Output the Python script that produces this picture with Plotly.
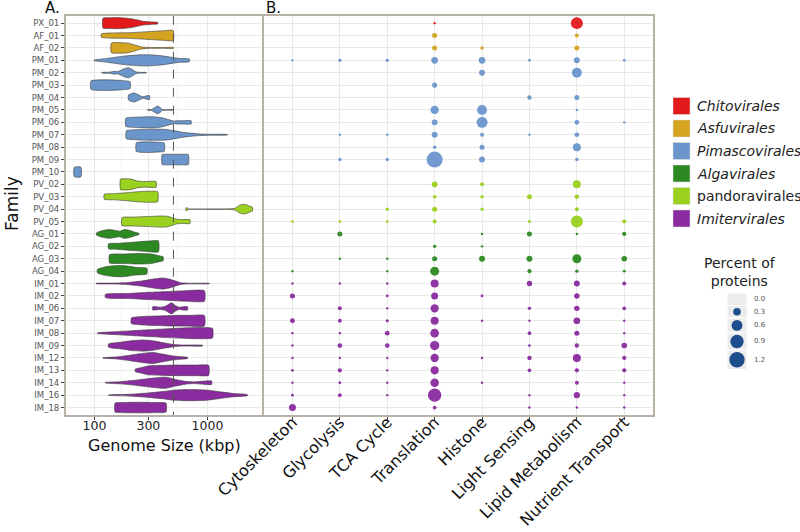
import plotly.graph_objects as go

W, H = 800, 532

families = ["PX_01", "AF_01", "AF_02", "PM_01", "PM_02", "PM_03", "PM_04", "PM_05",
            "PM_06", "PM_07", "PM_08", "PM_09", "PM_10", "PV_02", "PV_03", "PV_04",
            "PV_05", "AG_01", "AG_02", "AG_03", "AG_04", "IM_01", "IM_02", "IM_06",
            "IM_07", "IM_08", "IM_09", "IM_12", "IM_13", "IM_14", "IM_16", "IM_18"]

family_order = (["Chitovirales"] + ["Asfuvirales"] * 2 + ["Pimascovirales"] * 10 +
                ["pandoravirales"] * 4 + ["Algavirales"] * 4 + ["Imitervirales"] * 11)

orders = ["Chitovirales", "Asfuvirales", "Pimascovirales", "Algavirales",
          "pandoravirales", "Imitervirales"]
order_colors = ["#e31a1c", "#d4a421", "#6b96cc", "#2d8a22", "#9bd11f", "#8a2b9f"]
order_italic = [True, True, True, True, False, True]

# violin outlines: genome size (kbp) and relative half-width
violin_kbp = [
    [119, 136, 156, 190, 219, 268, 328, 362],
    [115, 200, 300, 400, 498],
    [141, 170, 200, 230, 260, 300, 400, 470, 500],
    [99, 130, 180, 250, 300, 380, 450, 500, 560, 691],
    [116, 135, 150, 160, 170, 185, 200, 215, 234, 260, 287],
    [93, 100, 130, 170, 200, 207],
    [200, 212, 225, 245, 265, 290, 307],
    [295, 320, 340, 362, 385, 400, 450, 492],
    [189, 200, 250, 330, 400, 460, 500, 550, 600, 717],
    [191, 210, 270, 350, 430, 520, 600, 700, 850, 1100, 1504],
    [234, 250, 300, 380, 415],
    [397, 420, 500, 600, 677],
    [66, 70, 76],
    [170, 190, 210, 240, 280, 351],
    [122, 150, 200, 260, 320, 363],
    [645, 665, 680, 1000, 1500, 1750, 1950, 2150, 2350, 2500],
    [175, 220, 300, 380, 440, 500, 540, 600, 700],
    [104, 115, 135, 155, 167, 185, 200, 225, 248],
    [133, 160, 220, 300, 368],
    [136, 180, 250, 320, 380, 405],
    [106, 120, 145, 180, 230, 291],
    [103, 150, 200, 260, 330, 400, 470, 530, 580, 700, 1038],
    [125, 200, 300, 450, 650, 940],
    [328, 380, 420, 450, 482, 520, 560, 610, 667],
    [212, 260, 350, 500, 700, 940],
    [106, 150, 220, 300, 450, 650, 900, 1110],
    [133, 170, 220, 270, 330, 420, 500, 600, 906],
    [119, 150, 200, 260, 330, 400, 480, 560, 667],
    [229, 260, 300, 400, 550, 800, 1025],
    [125, 170, 240, 330, 430, 520, 640, 750, 950, 1090],
    [133, 200, 300, 400, 500, 700, 1000, 1300, 1700, 2256],
    [152, 170, 250, 350, 430],
]
violin_width = [
    [0.9, 0.97, 1.0, 0.9, 0.75, 0.35, 0.2, 0.15],
    [0.3, 0.5, 0.7, 0.85, 0.9],
    [0.85, 0.95, 0.85, 0.5, 0.2, 0.08, 0.06, 0.12, 0.1],
    [0.05, 0.35, 0.75, 0.98, 1.0, 0.85, 0.65, 0.5, 0.35, 0.25],
    [0.05, 0.1, 0.25, 0.2, 0.4, 0.75, 0.9, 0.6, 0.15, 0.06, 0.06],
    [0.75, 0.9, 0.95, 0.85, 0.7, 0.6],
    [0.45, 0.7, 0.8, 0.5, 0.15, 0.3, 0.35],
    [0.05, 0.1, 0.4, 0.7, 0.35, 0.07, 0.05, 0.05],
    [0.7, 0.85, 0.95, 1.0, 0.8, 0.45, 0.25, 0.3, 0.3, 0.3],
    [0.7, 0.85, 0.95, 1.0, 0.95, 0.7, 0.45, 0.3, 0.15, 0.08, 0.05],
    [0.75, 0.9, 0.95, 0.85, 0.75],
    [0.9, 0.95, 0.95, 0.95, 0.9],
    [0.8, 0.95, 0.85],
    [0.95, 1.0, 0.95, 0.6, 0.5, 0.5],
    [0.45, 0.55, 0.75, 0.95, 1.0, 0.9],
    [0.25, 0.2, 0.04, 0.03, 0.04, 0.15, 0.75, 0.85, 0.55, 0.35],
    [0.7, 0.8, 0.9, 1.0, 0.95, 0.6, 0.4, 0.35, 0.35],
    [0.2, 0.55, 0.8, 0.6, 0.5, 0.8, 0.7, 0.35, 0.1],
    [0.45, 0.55, 0.75, 0.95, 1.0],
    [0.75, 0.85, 0.95, 0.85, 0.5, 0.35],
    [0.3, 0.7, 0.95, 1.0, 0.7, 0.5],
    [0.03, 0.08, 0.2, 0.45, 0.8, 1.0, 0.75, 0.4, 0.15, 0.05, 0.04],
    [0.3, 0.45, 0.65, 0.8, 0.95, 0.95],
    [0.3, 0.2, 0.35, 0.7, 1.0, 0.5, 0.2, 0.3, 0.3],
    [0.5, 0.75, 0.85, 0.95, 0.97, 0.95],
    [0.05, 0.25, 0.45, 0.6, 0.8, 0.95, 1.0, 0.85],
    [0.3, 0.6, 0.9, 1.0, 0.85, 0.45, 0.2, 0.1, 0.06],
    [0.04, 0.15, 0.45, 0.8, 1.0, 0.7, 0.4, 0.25, 0.1],
    [0.2, 0.5, 0.8, 0.9, 0.95, 0.95, 0.9],
    [0.05, 0.2, 0.5, 0.85, 1.0, 0.6, 0.25, 0.15, 0.3, 0.3],
    [0.03, 0.15, 0.4, 0.65, 0.9, 1.0, 0.9, 0.6, 0.3, 0.1],
    [0.8, 0.9, 0.95, 0.9, 0.8],
]
genome_cutoff_kbp = 500
genome_ticks = [100, 300, 1000]
genome_minor = [173, 548, 1732]

categories = ["Cytoskeleton", "Glycolysis", "TCA Cycle", "Translation", "Histone",
              "Light Sensing", "Lipid Metabolism", "Nutrient Transport"]

# percent of proteins per family (family order as above), 0 = absent
pct_cytoskeleton = [0, 0, 0, 0.02, 0, 0, 0, 0, 0, 0, 0, 0, 0, 0, 0, 0,
                    0.04, 0, 0, 0, 0.02, 0.025, 0.13, 0, 0.12, 0.02, 0.01, 0.03, 0.04, 0.02, 0.04, 0.25]
pct_glycolysis = [0, 0, 0, 0.06, 0, 0, 0, 0, 0, 0.02, 0, 0.06, 0, 0, 0, 0,
                  0.04, 0.13, 0, 0.03, 0, 0.025, 0, 0.08, 0.08, 0.03, 0.11, 0.01, 0.09, 0.04, 0.07, 0]
pct_tca = [0, 0, 0, 0.06, 0, 0, 0, 0, 0, 0.02, 0, 0.06, 0, 0, 0, 0.06,
           0.04, 0, 0, 0.03, 0.03, 0.025, 0.04, 0.03, 0.05, 0.11, 0.11, 0.015, 0.03, 0.03, 0.03, 0]
pct_translation = [0.005, 0.13, 0.13, 0.23, 0, 0.13, 0, 0.35, 0.18, 0.18, 0.06, 1.3, 0, 0.18, 0.07, 0.13,
                   0.08, 0, 0.06, 0.13, 0.41, 0.33, 0.25, 0.35, 0.33, 0.38, 0.44, 0.35, 0.33, 0.38, 0.9, 0.07]
pct_histone = [0, 0, 0.06, 0.23, 0.18, 0, 0, 0.5, 0.62, 0.08, 0.13, 0.18, 0, 0.08, 0.06, 0.06,
               0, 0.01, 0.03, 0.18, 0, 0, 0.04, 0, 0.025, 0, 0, 0.02, 0, 0.015, 0, 0]
pct_light = [0, 0, 0, 0.04, 0, 0, 0.1, 0, 0, 0.01, 0, 0, 0, 0, 0.13, 0,
             0.05, 0.13, 0, 0.18, 0.09, 0.15, 0, 0.06, 0.02, 0.07, 0.04, 0.1, 0.07, 0, 0.02, 0.02]
pct_lipid = [0.73, 0.08, 0.13, 0.18, 0.5, 0, 0.13, 0.015, 0.11, 0.11, 0.33, 0.06, 0, 0.33, 0.1, 0.08,
             0.73, 0.015, 0, 0.41, 0.06, 0.18, 0.15, 0.15, 0.23, 0.13, 0.1, 0.33, 0.09, 0.08, 0.2, 0.015]
pct_nutrient = [0, 0, 0, 0.04, 0, 0, 0, 0, 0.03, 0, 0, 0, 0, 0, 0, 0,
                0.08, 0.09, 0, 0.16, 0.04, 0.08, 0, 0.07, 0.015, 0.015, 0.16, 0.09, 0.09, 0.02, 0.01, 0.02]
pct_columns = [pct_cytoskeleton, pct_glycolysis, pct_tca, pct_translation, pct_histone,
               pct_light, pct_lipid, pct_nutrient]

size_legend_values = [0.0, 0.3, 0.6, 0.9, 1.2]

# ---------------------------------------------------------------- styling
FONT = "DejaVu Sans"
GRID = "#e8e8e8"
BORDER = "#b8b2a6"
SIZEREF = 1.0 / 98.0          # diameter ~ 14 px * sqrt(value)
HALF = 0.45


def px_x(x):
    return x / W


def px_y(y):
    return 1 - y / H


def diam(v):
    return 14.0 * v ** 0.5


color_of = dict(zip(orders, order_colors))
fig = go.Figure()

# ---------------------------------------------------------------- panel A violins
for i, fam in enumerate(families):
    ks = violin_kbp[i]
    ws = violin_width[i]
    xs = list(ks) + list(ks[::-1]) + [ks[0]]
    ys = [i - HALF * w for w in ws] + [i + HALF * w for w in ws[::-1]] + [i - HALF * ws[0]]
    fig.add_trace(go.Scatter(
        x=xs, y=ys, mode="lines", fill="toself",
        fillcolor=color_of[family_order[i]],
        line=dict(color="#3a3a3a", width=0.6, shape="spline", smoothing=0.5),
        xaxis="x", yaxis="y", showlegend=False, hoverinfo="skip"))

fig.add_trace(go.Scatter(
    x=[genome_cutoff_kbp, genome_cutoff_kbp], y=[-0.6, len(families) - 0.4],
    mode="lines", line=dict(color="#555555", width=1, dash="dash"),
    xaxis="x", yaxis="y", showlegend=False, hoverinfo="skip"))

# ---------------------------------------------------------------- panel B bubbles
for o, col in zip(orders, order_colors):
    bx, by, bs = [], [], []
    for j, column in enumerate(pct_columns):
        for i, fam in enumerate(families):
            if family_order[i] == o and column[i] > 0:
                bx.append(j)
                by.append(i)
                bs.append(column[i])
    fig.add_trace(go.Scatter(
        x=bx, y=by, mode="markers",
        marker=dict(size=bs, sizemode="area", sizeref=SIZEREF, sizemin=1.2,
                    color=col, opacity=0.95, line=dict(width=0)),
        xaxis="x2", yaxis="y2", showlegend=False, hoverinfo="skip"))

# ---------------------------------------------------------------- legends
shapes = []
annotations = []


def label(x, y, text, size, color="#111111", xanchor="center", angle=0):
    annotations.append(dict(x=px_x(x), y=px_y(y), xref="paper", yref="paper", text=text,
                            showarrow=False, xanchor=xanchor, yanchor="middle",
                            textangle=angle, align="center",
                            font=dict(family=FONT, size=size, color=color)))


leg_x0, leg_x1 = 673, 690
leg_y0, leg_dy = 106, 22.5
for k, (o, col, it) in enumerate(zip(orders, order_colors, order_italic)):
    cy = leg_y0 + k * leg_dy
    shapes.append(dict(type="rect", xref="paper", yref="paper", layer="below",
                       x0=px_x(leg_x0), x1=px_x(leg_x1), y0=px_y(cy + 8.5), y1=px_y(cy - 8.5),
                       fillcolor=col, line=dict(color="#dddddd", width=0.5)))
    label(695, cy, "<i>%s</i>" % o if it else o, 14, "#222222", xanchor="left")

label(740, 272, "Percent of<br>proteins", 14, "#222222")

key_x0, key_x1 = 727, 747
ky = 293.0
lx, ly, ls = [], [], []
for v in size_legend_values:
    hgt = max(12.5, diam(v) + 4)
    shapes.append(dict(type="rect", xref="paper", yref="paper", layer="below",
                       x0=px_x(key_x0), x1=px_x(key_x1), y0=px_y(ky + hgt), y1=px_y(ky),
                       fillcolor="#ececec", line=dict(color="white", width=1)))
    cy = ky + hgt / 2
    lx.append((key_x0 + key_x1) / 2)
    ly.append(cy)
    ls.append(v)
    label(752, cy, "%.1f" % v, 7, "#555555", xanchor="left")
    ky += hgt

fig.add_trace(go.Scatter(
    x=lx, y=ly, mode="markers",
    marker=dict(size=ls, sizemode="area", sizeref=SIZEREF, sizemin=0, color="#1f4e8c",
                opacity=1, line=dict(width=0)),
    xaxis="x3", yaxis="y3", showlegend=False, hoverinfo="skip"))

# titles / panel letters
label(52, 8.5, "A.", 15)
label(273, 8.5, "B.", 15)
label(164, 445, "Genome Size (kbp)", 16)
label(12, 204, "Family", 17, angle=-90)

ydom = [px_y(415), px_y(15.7)]
yrange = [len(families) - 0.4, -0.6]
common_axis = dict(showline=True, linecolor=BORDER, linewidth=1.5, mirror=True,
                   gridcolor=GRID, gridwidth=1, zeroline=False, ticks="outside",
                   ticklen=3, tickcolor="#444444", tickwidth=1, automargin=False)

fig.update_layout(
    width=W, height=H, margin=dict(l=0, r=0, t=0, b=0, autoexpand=False),
    paper_bgcolor="white", plot_bgcolor="rgba(0,0,0,0)",
    font=dict(family=FONT),
    shapes=shapes, annotations=annotations,
    xaxis=dict(domain=[px_x(65.7), px_x(262)], type="log", range=[1.745, 3.483],
               tickvals=genome_ticks, ticktext=[str(t) for t in genome_ticks],
               tickfont=dict(family=FONT, size=12.5, color="#222222"),
               ticklabelstandoff=-5,
               minor=dict(tickvals=genome_minor, showgrid=True, gridcolor="#f3f3f3",
                          ticks=""),
               anchor="y", **common_axis),
    yaxis=dict(domain=ydom, range=yrange, tickvals=list(range(len(families))),
               ticktext=families, tickfont=dict(family=FONT, size=8.5, color="#555555"),
               anchor="x", **common_axis),
    xaxis2=dict(domain=[px_x(264), px_x(652.7)], range=[-0.6, len(categories) - 0.4],
                tickvals=list(range(len(categories))), ticktext=categories, tickangle=-45,
                tickfont=dict(family=FONT, size=16, color="#111111"),
                ticklabelstandoff=-13,
                anchor="y2", **common_axis),
    yaxis2=dict(domain=ydom, range=yrange, tickvals=list(range(len(families))),
                showticklabels=False, anchor="x2",
                **{k: v for k, v in common_axis.items() if k not in ("ticks", "ticklen")},
                ticks=""),
    xaxis3=dict(domain=[0, 1], range=[0, W], visible=False, anchor="y3", automargin=False),
    yaxis3=dict(domain=[0, 1], range=[H, 0], visible=False, anchor="x3", automargin=False),
)

fig.write_html("out.html", config={"displayModeBar": False},
               post_script="document.body.style.margin='0px';")
